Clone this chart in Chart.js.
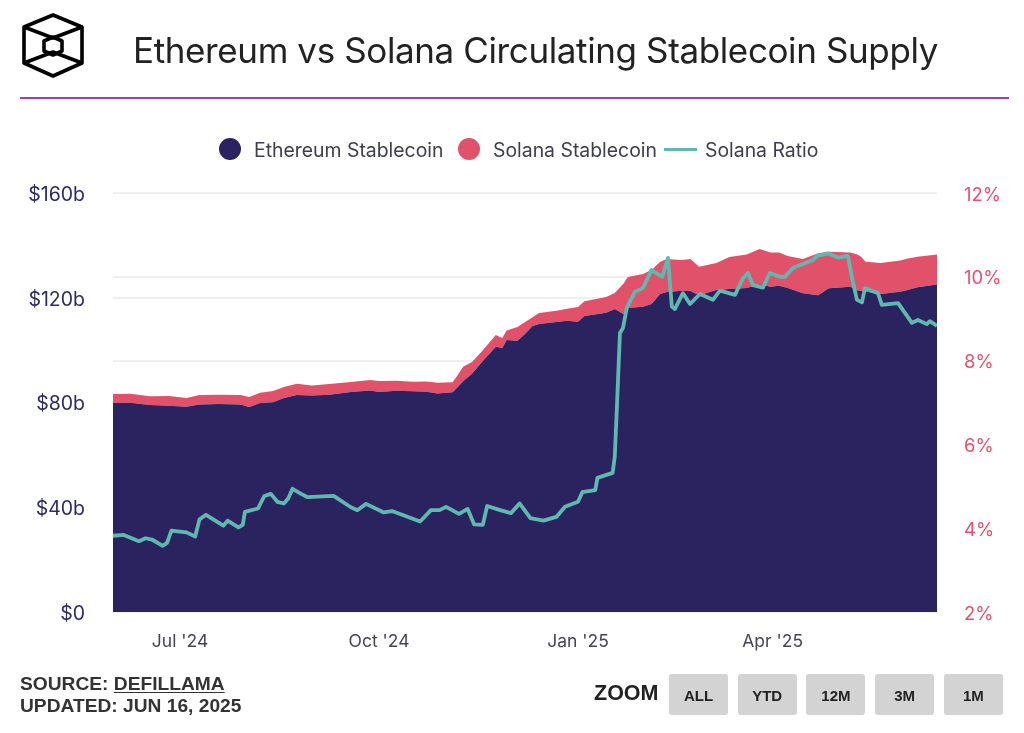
<!DOCTYPE html>
<html>
<head>
<meta charset="utf-8">
<title>Ethereum vs Solana Circulating Stablecoin Supply</title>
<script src="https://cdn.jsdelivr.net/npm/chart.js@4"></script>
<style>
    html, body { margin: 0; padding: 0; background: #fff; }
    body { position: relative; width: 1024px; height: 733px; overflow: hidden; }
    canvas { position: absolute; left: 0; top: 0; }
    .logo { position: absolute; left: 0; top: 0; }
    .title { position: absolute; left: 133px; top: 26px; font: 400 35px/48px Inter, sans-serif; letter-spacing: -0.38px; color: #222; white-space: nowrap; }
    .rule { position: absolute; left: 20px; top: 97px; width: 989px; height: 2px; background: #9440cf; }
    .legend span { position: absolute; top: 138px; font: 400 19.4px/24px Inter, sans-serif; color: #3d3d4d; white-space: nowrap; }
    .legend i { position: absolute; display: block; }
    .source { position: absolute; left: 20px; top: 673px; font: 700 19.2px/22px "Liberation Sans", Arial, sans-serif; color: #333; white-space: nowrap; }
    .source u { text-underline-offset: 2px; }
    .zoom-label { position: absolute; left: 594px; top: 680px; font: 700 21.5px/26px "Liberation Sans", Arial, sans-serif; color: #222; }
    .zoom-btn { position: absolute; top: 674px; width: 59px; height: 41px; background: #d3d3d3; border-radius: 3px; text-align: center; font: 700 15px/43px "Liberation Sans", Arial, sans-serif; color: #222; }
</style>
</head>
<body>
<canvas id="supplyChart" width="1024" height="733"></canvas>

<svg class="logo" width="110" height="96" fill="none" stroke="#000" stroke-width="3.6" stroke-linejoin="round">
    <path d="M53 15 L82 27 V63 L53 76 L24 63 V27 Z"/>
    <path d="M53 37 L62 41 V51 L53 55 L44 51 V41 Z"/>
    <path d="M24 27 L53 38 L82 27 M24 63 L53 52 L82 63"/>
</svg>
<div class="title">Ethereum vs Solana Circulating Stablecoin Supply</div>
<div class="rule"></div>

<div class="legend" id="legend"></div>

<div class="source">SOURCE: <u>DEFILLAMA</u><br>UPDATED: JUN 16, 2025</div>
<div class="zoom-label">ZOOM</div>
<div id="zoomButtons"></div>

<script>
// Days counted from 31 May 2024
const supplyDays = [0, 8, 17, 26, 34, 40, 49, 59, 63, 68, 74, 79, 85, 92, 100, 110, 119, 123, 131, 139, 145, 150, 157, 159, 162, 166, 171, 177, 180, 182, 187, 190, 194, 197, 205, 210, 215, 218, 228, 232, 236, 238, 245, 249, 253, 256, 263, 267, 271, 279, 285, 293, 299, 304, 308, 312, 319, 326, 331, 341, 344, 346, 348, 355, 364, 367, 372, 381];
const ethereumSupply = [79.8, 79.9, 79.0, 78.8, 78.4, 79.2, 79.4, 79.2, 78.3, 79.8, 80.1, 81.7, 82.9, 82.7, 83.0, 84.0, 84.6, 84.0, 84.5, 84.3, 84.1, 83.4, 83.9, 85.5, 88.2, 91.0, 95.8, 101.3, 100.8, 103.9, 103.6, 105.8, 109.2, 110.0, 110.7, 111.2, 110.8, 113.0, 114.3, 115.7, 113.8, 116.1, 116.6, 117.6, 121.4, 122.2, 122.7, 122.6, 121.0, 123.0, 123.3, 123.7, 125.2, 124.2, 124.6, 123.7, 121.7, 121.0, 123.6, 124.2, 122.9, 122.6, 122.4, 121.4, 122.3, 122.9, 124.0, 125.1];
const solanaSupply = [3.4, 3.4, 3.4, 3.7, 3.3, 3.7, 3.6, 3.7, 3.8, 3.9, 4.3, 4.2, 4.3, 3.8, 4.1, 3.8, 4.0, 4.2, 3.8, 3.6, 3.9, 4.1, 3.8, 4.5, 5.5, 4.5, 4.2, 4.5, 3.8, 3.6, 5.2, 4.7, 3.4, 4.2, 4.3, 4.6, 5.7, 5.7, 6.0, 6.1, 11.5, 11.8, 12.5, 13.0, 12.3, 12.6, 11.7, 12.2, 10.8, 10.3, 12.3, 12.8, 13.4, 13.1, 12.7, 12.2, 13.1, 16.0, 14.0, 13.1, 13.7, 13.0, 11.3, 11.9, 11.9, 12.0, 11.7, 11.4];

const ratioDays = [0, 5, 12, 15, 18, 23, 25, 27, 34, 38, 40, 43, 51, 53, 58, 60, 61, 67, 70, 73, 76, 79, 81, 83, 87, 90, 102, 110, 113, 117, 125, 129, 142, 147, 151, 154, 160, 164, 167, 171, 173, 179, 184, 188, 193, 199, 205, 209, 215, 217, 223, 224, 231, 232, 233, 234.4, 235.8, 237.6, 241.3, 245, 249, 254, 256.6, 258.4, 259.8, 263.5, 266.8, 271.4, 277.4, 280.6, 287.6, 291.3, 293.6, 295.9, 300.5, 303.7, 308.4, 310.7, 314.4, 323.6, 325.5, 330.6, 335.2, 339.8, 342.1, 344, 346.3, 347.7, 353.7, 355.5, 363, 369.4, 372.2, 376.3, 377.7, 381];
const solanaRatio = [3.82, 3.84, 3.69, 3.76, 3.73, 3.58, 3.65, 3.94, 3.90, 3.80, 4.21, 4.32, 4.06, 4.18, 4.02, 4.08, 4.39, 4.47, 4.77, 4.82, 4.63, 4.59, 4.71, 4.94, 4.82, 4.74, 4.77, 4.50, 4.43, 4.58, 4.38, 4.41, 4.16, 4.43, 4.43, 4.51, 4.34, 4.46, 4.09, 4.08, 4.53, 4.43, 4.36, 4.59, 4.24, 4.18, 4.27, 4.51, 4.63, 4.86, 4.91, 5.20, 5.32, 5.70, 6.89, 8.66, 8.78, 9.26, 9.64, 9.73, 10.16, 10.0, 10.45, 9.29, 9.23, 9.61, 9.35, 9.59, 9.45, 9.67, 9.57, 9.97, 10.09, 9.80, 9.74, 10.09, 10.0, 10.0, 10.21, 10.40, 10.50, 10.56, 10.46, 10.50, 9.88, 9.45, 9.39, 9.73, 9.61, 9.33, 9.37, 8.90, 8.97, 8.87, 8.94, 8.83];

const tickDays = [31, 123, 215, 305];
const tickLabels = ["Jul '24", "Oct '24", "Jan '25", "Apr '25"];
const seriesNames = ['Ethereum Stablecoin', 'Solana Stablecoin', 'Solana Ratio'];
const zoomLabels = ['ALL', 'YTD', '12M', '3M', '1M'];

const NAVY = '#2a2360';
const RED = '#e2516a';
const TEAL = '#5fb9af';

// y labels sit about 2px lower than the canvas middle baseline puts them
const nudgeLabels = {
    id: 'nudgeLabels',
    beforeDraw: (chart) => {
        ['ySupply', 'yRatio'].forEach(id => {
            const scale = chart.scales[id];
            if (scale.nudged) return;
            const draw = scale.drawLabels.bind(scale);
            scale.drawLabels = (area) => {
                scale.ctx.save();
                scale.ctx.translate(0, 2);
                draw(area);
                scale.ctx.restore();
            };
            scale.nudged = true;
        });
    }
};

const ctx = document.getElementById('supplyChart');

window.supplyChart = new Chart(ctx, {
    type: 'line',
    plugins: [nudgeLabels],
    data: {
        datasets: [
            {
                label: seriesNames[0],
                data: supplyDays.map((d, i) => ({ x: d, y: ethereumSupply[i] })),
                yAxisID: 'ySupply',
                backgroundColor: NAVY,
                borderWidth: 0,
                pointRadius: 0,
                fill: 'origin',
                stack: 'supply',
                order: 1
            },
            {
                label: seriesNames[1],
                data: supplyDays.map((d, i) => ({ x: d, y: solanaSupply[i] })),
                yAxisID: 'ySupply',
                backgroundColor: RED,
                borderWidth: 0,
                pointRadius: 0,
                fill: '-1',
                stack: 'supply',
                order: 2
            },
            {
                label: seriesNames[2],
                data: ratioDays.map((d, i) => ({ x: d, y: solanaRatio[i] })),
                yAxisID: 'yRatio',
                borderColor: TEAL,
                borderWidth: 3.8,
                borderJoinStyle: 'round',
                pointRadius: 0,
                fill: false,
                order: 0
            }
        ]
    },
    options: {
        responsive: false,
        animation: false,
        parsing: false,
        layout: { padding: { top: 193, left: 0, right: 0, bottom: 0 } },
        plugins: { legend: { display: false }, tooltip: { enabled: false } },
        scales: {
            x: {
                type: 'linear',
                min: 0,
                max: 381,
                grid: { display: false },
                border: { display: false },
                afterBuildTicks: (scale) => { scale.ticks = tickDays.map(v => ({ value: v })); },
                afterFit: (scale) => { scale.height = 121; },
                ticks: {
                    autoSkip: false,
                    maxRotation: 0,
                    padding: 11,
                    color: '#45454f',
                    font: { family: 'Inter', size: 17.5 },
                    callback: (value) => tickLabels[tickDays.indexOf(value)]
                }
            },
            ySupply: {
                position: 'left',
                stacked: true,
                min: 0,
                max: 160,
                grid: { color: '#efefef', lineWidth: 2, drawTicks: false },
                border: { display: false },
                afterFit: (scale) => { scale.width = 113; },
                ticks: {
                    stepSize: 40,
                    padding: 28,
                    color: '#2f2a66',
                    font: { family: 'Inter', size: 19.5 },
                    callback: (value) => value === 0 ? '$0' : '$' + value + 'b'
                }
            },
            yRatio: {
                position: 'right',
                min: 2,
                max: 12,
                grid: { color: '#efefef', lineWidth: 2, drawTicks: false },
                border: { display: false },
                afterFit: (scale) => { scale.width = 87; },
                ticks: {
                    stepSize: 2,
                    padding: 27,
                    color: '#e8506e',
                    font: { family: 'Inter', size: 18.5 },
                    callback: (value) => value + '%'
                }
            }
        }
    }
});

// Legend row
const legend = document.getElementById('legend');
const legendText = [254, 493, 705];
seriesNames.forEach((name, i) => {
    const label = document.createElement('span');
    label.style.left = legendText[i] + 'px';
    label.textContent = name;
    legend.appendChild(label);
});
[[219, NAVY], [458, RED]].forEach(([left, color]) => {
    const dot = document.createElement('i');
    dot.style.cssText = `left:${left}px;top:138px;width:22px;height:22px;border-radius:50%;background:${color}`;
    legend.appendChild(dot);
});
const dash = document.createElement('i');
dash.style.cssText = `left:664px;top:148px;width:33px;height:3px;background:${TEAL}`;
legend.appendChild(dash);

// Zoom buttons (static)
const buttons = document.getElementById('zoomButtons');
zoomLabels.forEach((text, i) => {
    const btn = document.createElement('div');
    btn.className = 'zoom-btn';
    btn.style.left = (669 + i * 68.7) + 'px';
    btn.textContent = text;
    buttons.appendChild(btn);
});
</script>
</body>
</html>
